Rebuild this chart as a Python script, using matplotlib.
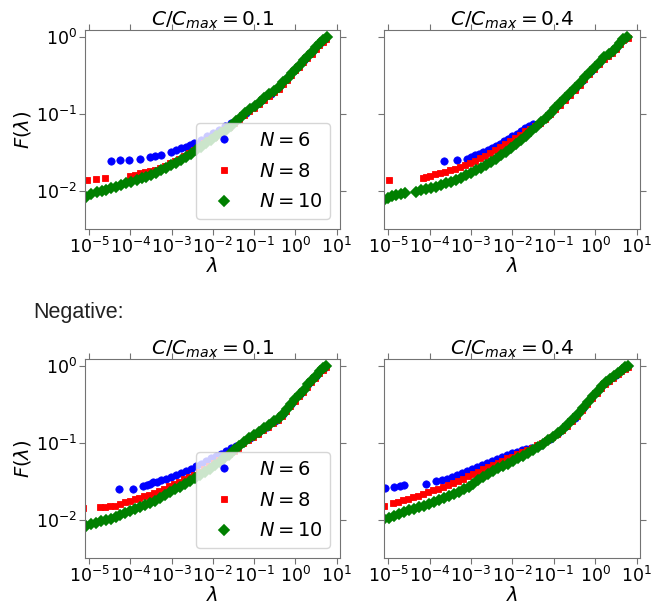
import numpy as np
import matplotlib
matplotlib.use('Agg')
import matplotlib.pyplot as plt
from matplotlib.ticker import NullLocator

# values, stored as log10(lambda) and log10(F)

# positive, C/Cmax = 0.1
p1_n6_lx = [-4.46, -4.26, -4.04, -3.77, -3.53, -3.41, -3.27, -3.01, -2.89, -2.77,
            -2.65, -2.56, -2.45, -2.30, -2.15, -2.00, -1.85, -1.70, -1.55, -1.40,
            -1.20, -1.00, -0.80, -0.60, -0.40, -0.20, 0.00, 0.20, 0.40, 0.60, 0.72]
p1_n6_ly = [-1.61, -1.60, -1.59, -1.576, -1.563, -1.55, -1.532, -1.489, -1.468, -1.446,
            -1.424, -1.40, -1.37, -1.33, -1.29, -1.25, -1.21, -1.16, -1.11, -1.06,
            -0.98, -0.895, -0.815, -0.735, -0.65, -0.535, -0.415, -0.305, -0.195, -0.075, -0.025]
p1_n8_lx = [-5.05, -4.84, -4.61, -4.02, -3.90, -3.77, -3.65, -3.53, -3.41, -3.29,
            -3.17, -3.05, -2.93, -2.81, -2.69, -2.57, -2.45, -2.33, -2.21, -2.09,
            -1.97, -1.85, -1.73, -1.61, -1.49, -1.37, -1.25, -1.13, -1.01, -0.89,
            -0.77, -0.65, -0.53, -0.41, -0.31, -0.21, -0.11, -0.01, 0.09, 0.19,
            0.29, 0.39, 0.49, 0.58, 0.66, 0.74]
p1_n8_ly = [-1.857, -1.846, -1.832, -1.80, -1.785, -1.77, -1.755, -1.74, -1.72, -1.697,
            -1.67, -1.64, -1.61, -1.576, -1.54, -1.50, -1.46, -1.425, -1.38, -1.34,
            -1.30, -1.255, -1.21, -1.165, -1.115, -1.065, -1.015, -0.965, -0.915, -0.865,
            -0.82, -0.77, -0.72, -0.67, -0.615, -0.555, -0.495, -0.435, -0.385, -0.325,
            -0.27, -0.215, -0.155, -0.10, -0.06, -0.025]
p1_n10_lx = [-5.08, -4.95, -4.82, -4.70, -4.58, -4.46, -4.34, -4.22, -4.10, -3.98,
             -3.85, -3.73, -3.61, -3.49, -3.37, -3.25, -3.13, -3.01, -2.89, -2.77,
             -2.65, -2.53, -2.41, -2.29, -2.17, -2.05, -1.93, -1.81, -1.69, -1.57,
             -1.45, -1.35, -1.23, -1.11, -0.99, -0.87, -0.75, -0.63, -0.51, -0.39,
             -0.29, -0.19, -0.09, 0.01, 0.11, 0.21, 0.31, 0.41, 0.51, 0.60,
             0.68, 0.76]
p1_n10_ly = [-2.07, -2.04, -2.01, -1.995, -1.98, -1.96, -1.94, -1.92, -1.90, -1.88,
             -1.857, -1.835, -1.814, -1.786, -1.758, -1.728, -1.697, -1.665, -1.632, -1.60,
             -1.56, -1.515, -1.47, -1.425, -1.38, -1.335, -1.29, -1.245, -1.20, -1.15,
             -1.095, -1.045, -0.99, -0.94, -0.89, -0.84, -0.795, -0.745, -0.695, -0.645,
             -0.59, -0.53, -0.47, -0.41, -0.36, -0.30, -0.245, -0.19, -0.13, -0.075,
             -0.035, 0.0]

# positive, C/Cmax = 0.4
p2_n6_lx = [-3.65, -3.33, -3.10, -3.00, -2.90, -2.80, -2.70, -2.60, -2.50, -2.40,
            -2.30, -2.20, -2.10, -2.00, -1.90, -1.80, -1.70, -1.60, -1.50, -1.30,
            -1.10, -0.90, -0.70, -0.50, -0.30, -0.10, 0.10, 0.30, 0.50, 0.70]
p2_n6_ly = [-1.61, -1.60, -1.58, -1.56, -1.535, -1.515, -1.495, -1.47, -1.445, -1.42,
            -1.39, -1.355, -1.32, -1.29, -1.255, -1.215, -1.18, -1.15, -1.125, -1.095,
            -0.99, -0.885, -0.78, -0.67, -0.56, -0.445, -0.335, -0.23, -0.14, -0.025]
p2_n8_lx = [-4.98, -4.16, -4.08, -3.98, -3.86, -3.74, -3.62, -3.50, -3.38, -3.26,
            -3.14, -3.02, -2.90, -2.78, -2.66, -2.54, -2.42, -2.30, -2.18, -2.06,
            -1.94, -1.82, -1.70, -1.58, -1.46, -1.34, -1.22, -1.10, -0.98, -0.86,
            -0.74, -0.62, -0.50, -0.38, -0.26, -0.14, -0.02, 0.10, 0.20, 0.30,
            0.40, 0.50, 0.60, 0.68, 0.78]
p2_n8_ly = [-1.857, -1.835, -1.82, -1.80, -1.78, -1.765, -1.75, -1.73, -1.71, -1.685,
            -1.66, -1.635, -1.61, -1.575, -1.54, -1.50, -1.465, -1.425, -1.385, -1.345,
            -1.305, -1.265, -1.225, -1.19, -1.155, -1.12, -1.07, -1.005, -0.94, -0.88,
            -0.815, -0.75, -0.685, -0.62, -0.55, -0.48, -0.415, -0.35, -0.29, -0.245,
            -0.205, -0.155, -0.09, -0.045, -0.015]
p2_n10_lx = [-5.10, -5.00, -4.90, -4.80, -4.70, -4.60, -4.32, -4.20, -4.08, -3.96,
             -3.84, -3.72, -3.60, -3.48, -3.36, -3.24, -3.12, -3.00, -2.88, -2.76,
             -2.64, -2.52, -2.40, -2.28, -2.16, -2.04, -1.92, -1.80, -1.68, -1.56,
             -1.44, -1.32, -1.20, -1.08, -0.96, -0.84, -0.72, -0.60, -0.48, -0.36,
             -0.24, -0.12, 0.00, 0.12, 0.22, 0.32, 0.42, 0.52, 0.60, 0.68,
             0.76]
p2_n10_ly = [-2.12, -2.09, -2.065, -2.05, -2.035, -2.025, -2.01, -1.99, -1.97, -1.955,
             -1.94, -1.92, -1.90, -1.875, -1.85, -1.825, -1.795, -1.765, -1.73, -1.695,
             -1.66, -1.62, -1.58, -1.535, -1.49, -1.44, -1.39, -1.335, -1.28, -1.225,
             -1.165, -1.105, -1.045, -0.98, -0.915, -0.855, -0.79, -0.725, -0.66, -0.595,
             -0.525, -0.455, -0.39, -0.325, -0.265, -0.22, -0.185, -0.13, -0.075, -0.03,
             0.0]

# negative, C/Cmax = 0.1
p3_n6_lx = [-4.28, -3.93, -3.69, -3.60, -3.53, -3.44, -3.36, -3.25, -3.13, -3.01,
            -2.89, -2.77, -2.65, -2.53, -2.41, -2.29, -2.17, -2.05, -1.93, -1.81,
            -1.69, -1.57, -1.45, -1.30, -1.10, -0.90, -0.70, -0.50, -0.30, -0.10,
            0.10, 0.30, 0.50, 0.70]
p3_n6_ly = [-1.60, -1.59, -1.56, -1.54, -1.525, -1.51, -1.50, -1.485, -1.465, -1.44,
            -1.415, -1.39, -1.36, -1.33, -1.30, -1.27, -1.235, -1.20, -1.165, -1.14,
            -1.10, -1.07, -1.035, -1.00, -0.935, -0.865, -0.79, -0.71, -0.62, -0.49,
            -0.37, -0.24, -0.125, -0.025]
p3_n8_lx = [-5.15, -4.74, -4.62, -4.50, -4.38, -4.26, -4.14, -4.02, -3.90, -3.78,
            -3.66, -3.54, -3.42, -3.30, -3.18, -3.06, -2.94, -2.82, -2.70, -2.58,
            -2.46, -2.34, -2.22, -2.10, -1.98, -1.86, -1.74, -1.62, -1.50, -1.38,
            -1.26, -1.14, -1.02, -0.90, -0.78, -0.66, -0.54, -0.42, -0.32, -0.22,
            -0.12, -0.02, 0.08, 0.18, 0.28, 0.38, 0.48, 0.58, 0.67, 0.75]
p3_n8_ly = [-1.84, -1.83, -1.83, -1.82, -1.81, -1.79, -1.77, -1.75, -1.73, -1.71,
            -1.69, -1.67, -1.645, -1.62, -1.59, -1.56, -1.53, -1.50, -1.47, -1.44,
            -1.41, -1.375, -1.34, -1.30, -1.26, -1.22, -1.18, -1.14, -1.10, -1.06,
            -1.005, -0.96, -0.92, -0.88, -0.83, -0.79, -0.745, -0.70, -0.645, -0.585,
            -0.52, -0.455, -0.395, -0.335, -0.27, -0.205, -0.15, -0.095, -0.05, -0.015]
p3_n10_lx = [-5.08, -4.96, -4.84, -4.72, -4.60, -4.48, -4.36, -4.24, -4.12, -4.00,
             -3.88, -3.76, -3.64, -3.52, -3.40, -3.28, -3.16, -3.04, -2.92, -2.80,
             -2.68, -2.56, -2.44, -2.32, -2.20, -2.08, -1.96, -1.84, -1.72, -1.60,
             -1.48, -1.36, -1.24, -1.12, -1.00, -0.88, -0.76, -0.64, -0.52, -0.40,
             -0.30, -0.20, -0.10, 0.00, 0.10, 0.20, 0.30, 0.40, 0.50, 0.60,
             0.68, 0.75]
p3_n10_ly = [-2.08, -2.05, -2.03, -2.015, -2.00, -1.98, -1.96, -1.935, -1.91, -1.885,
             -1.855, -1.83, -1.80, -1.775, -1.745, -1.71, -1.675, -1.64, -1.60, -1.565,
             -1.53, -1.49, -1.455, -1.415, -1.375, -1.33, -1.29, -1.245, -1.195, -1.15,
             -1.09, -1.04, -0.98, -0.94, -0.90, -0.86, -0.81, -0.77, -0.72, -0.675,
             -0.62, -0.56, -0.49, -0.43, -0.37, -0.31, -0.24, -0.18, -0.125, -0.07,
             -0.03, 0.0]

# negative, C/Cmax = 0.4
p4_n6_lx = [-5.07, -4.87, -4.71, -4.61, -4.09, -3.85, -3.70, -3.58, -3.46, -3.34,
            -3.22, -3.10, -2.98, -2.86, -2.74, -2.62, -2.50, -2.38, -2.26, -2.14,
            -2.02, -1.90, -1.78, -1.66, -1.54, -1.42, -1.30, -1.10, -0.90, -0.70,
            -0.50, -0.30, -0.10, 0.10, 0.30, 0.50, 0.70]
p4_n6_ly = [-1.58, -1.57, -1.56, -1.545, -1.525, -1.495, -1.48, -1.46, -1.44, -1.415,
            -1.39, -1.365, -1.335, -1.31, -1.285, -1.26, -1.235, -1.21, -1.185, -1.16,
            -1.135, -1.11, -1.095, -1.08, -1.065, -1.05, -1.03, -0.95, -0.865, -0.78,
            -0.67, -0.55, -0.42, -0.30, -0.19, -0.115, -0.03]
p4_n8_lx = [-5.10, -4.88, -4.76, -4.64, -4.52, -4.40, -4.28, -4.16, -4.04, -3.92,
            -3.80, -3.68, -3.56, -3.44, -3.32, -3.20, -3.08, -2.96, -2.84, -2.72,
            -2.60, -2.48, -2.36, -2.24, -2.12, -2.00, -1.88, -1.76, -1.64, -1.52,
            -1.40, -1.28, -1.16, -1.04, -0.92, -0.80, -0.68, -0.56, -0.44, -0.32,
            -0.20, -0.08, 0.04, 0.14, 0.24, 0.34, 0.44, 0.54, 0.63, 0.71,
            0.78]
p4_n8_ly = [-1.82, -1.78, -1.76, -1.74, -1.72, -1.70, -1.68, -1.655, -1.635, -1.61,
            -1.59, -1.565, -1.54, -1.515, -1.49, -1.46, -1.43, -1.40, -1.37, -1.34,
            -1.31, -1.285, -1.255, -1.23, -1.20, -1.175, -1.145, -1.12, -1.09, -1.06,
            -1.03, -1.00, -0.96, -0.925, -0.885, -0.835, -0.775, -0.715, -0.65, -0.575,
            -0.495, -0.415, -0.345, -0.285, -0.23, -0.19, -0.15, -0.11, -0.07, -0.04,
            -0.015]
p4_n10_lx = [-5.10, -4.98, -4.86, -4.74, -4.62, -4.50, -4.38, -4.26, -4.14, -4.02,
             -3.90, -3.78, -3.66, -3.54, -3.42, -3.30, -3.18, -3.06, -2.94, -2.82,
             -2.70, -2.58, -2.46, -2.34, -2.22, -2.10, -1.98, -1.86, -1.74, -1.62,
             -1.50, -1.38, -1.26, -1.14, -1.02, -0.90, -0.78, -0.66, -0.54, -0.42,
             -0.30, -0.18, -0.06, 0.06, 0.16, 0.26, 0.36, 0.46, 0.56, 0.64,
             0.72, 0.78]
p4_n10_ly = [-1.99, -1.965, -1.94, -1.915, -1.89, -1.87, -1.85, -1.83, -1.81, -1.785,
             -1.76, -1.735, -1.71, -1.685, -1.66, -1.63, -1.60, -1.565, -1.525, -1.48,
             -1.44, -1.40, -1.36, -1.325, -1.295, -1.265, -1.235, -1.20, -1.165, -1.13,
             -1.095, -1.055, -1.01, -0.965, -0.915, -0.865, -0.815, -0.75, -0.69, -0.625,
             -0.55, -0.47, -0.39, -0.32, -0.26, -0.205, -0.17, -0.13, -0.09, -0.05,
             -0.02, 0.0]

titles = ['$C/C_{max} = 0.1$', '$C/C_{max} = 0.4$']
xticks = [1e-5, 1e-4, 1e-3, 1e-2, 1e-1, 1e0, 1e1]
yticks = [1e-2, 1e-1, 1e0]

W, H = 651, 610
fig = plt.figure(figsize=(W / 100, H / 100), dpi=100)


def box(l, t, r, b):
    return [l / W, 1 - b / H, (r - l) / W, (b - t) / H]


panels = [
    (box(85, 30, 340, 229), titles[0], True,
     (p1_n6_lx, p1_n6_ly), (p1_n8_lx, p1_n8_ly), (p1_n10_lx, p1_n10_ly)),
    (box(384, 30, 640, 229), titles[1], False,
     (p2_n6_lx, p2_n6_ly), (p2_n8_lx, p2_n8_ly), (p2_n10_lx, p2_n10_ly)),
    (box(85, 359, 340, 558), titles[0], True,
     (p3_n6_lx, p3_n6_ly), (p3_n8_lx, p3_n8_ly), (p3_n10_lx, p3_n10_ly)),
    (box(384, 359, 640, 558), titles[1], False,
     (p4_n6_lx, p4_n6_ly), (p4_n8_lx, p4_n8_ly), (p4_n10_lx, p4_n10_ly)),
]

for rect, title, left, s6, s8, s10 in panels:
    ax = fig.add_axes(rect)
    ax.set_xscale('log')
    ax.set_yscale('log')
    ax.plot(10 ** np.array(s6[0]), 10 ** np.array(s6[1]), 'o', color='b',
            ms=5.3, mew=0.5, ls='none', label='$N = 6$')
    ax.plot(10 ** np.array(s8[0]), 10 ** np.array(s8[1]), 's', color='r',
            ms=5.0, mew=0.6, ls='none', label='$N = 8$')
    ax.plot(10 ** np.array(s10[0]), 10 ** np.array(s10[1]), 'D', color='g',
            ms=5.2, mew=1.2, ls='none', label='$N = 10$')
    ax.set_xlim(10 ** -5.1, 10 ** 1.08)
    ax.set_ylim(10 ** -2.49, 10 ** 0.09)
    ax.set_xticks(xticks)
    ax.set_yticks(yticks)
    ax.xaxis.set_minor_locator(NullLocator())
    ax.yaxis.set_minor_locator(NullLocator())
    ax.tick_params(direction='out', top=True, right=True, labelsize=12.5,
                   color='0.45', length=4, pad=2)
    for sp in ax.spines.values():
        sp.set_color('0.45')
    ax.set_title(title, fontsize=14.5, pad=3)
    ax.set_xlabel(r'$\lambda$', fontsize=14, labelpad=0)
    if left:
        ax.set_ylabel(r'$F(\lambda)$', fontsize=14, labelpad=2)
        ax.legend(loc='lower right', fontsize=14, labelspacing=0.6,
                  borderaxespad=0.5)
    else:
        ax.tick_params(labelleft=False)

fig.text(33 / W, 1 - 313 / H, 'Negative:', fontsize=15.5,
         family='Liberation Sans', color='#222222', va='center', ha='left')

fig.savefig('out.png', dpi=100)
